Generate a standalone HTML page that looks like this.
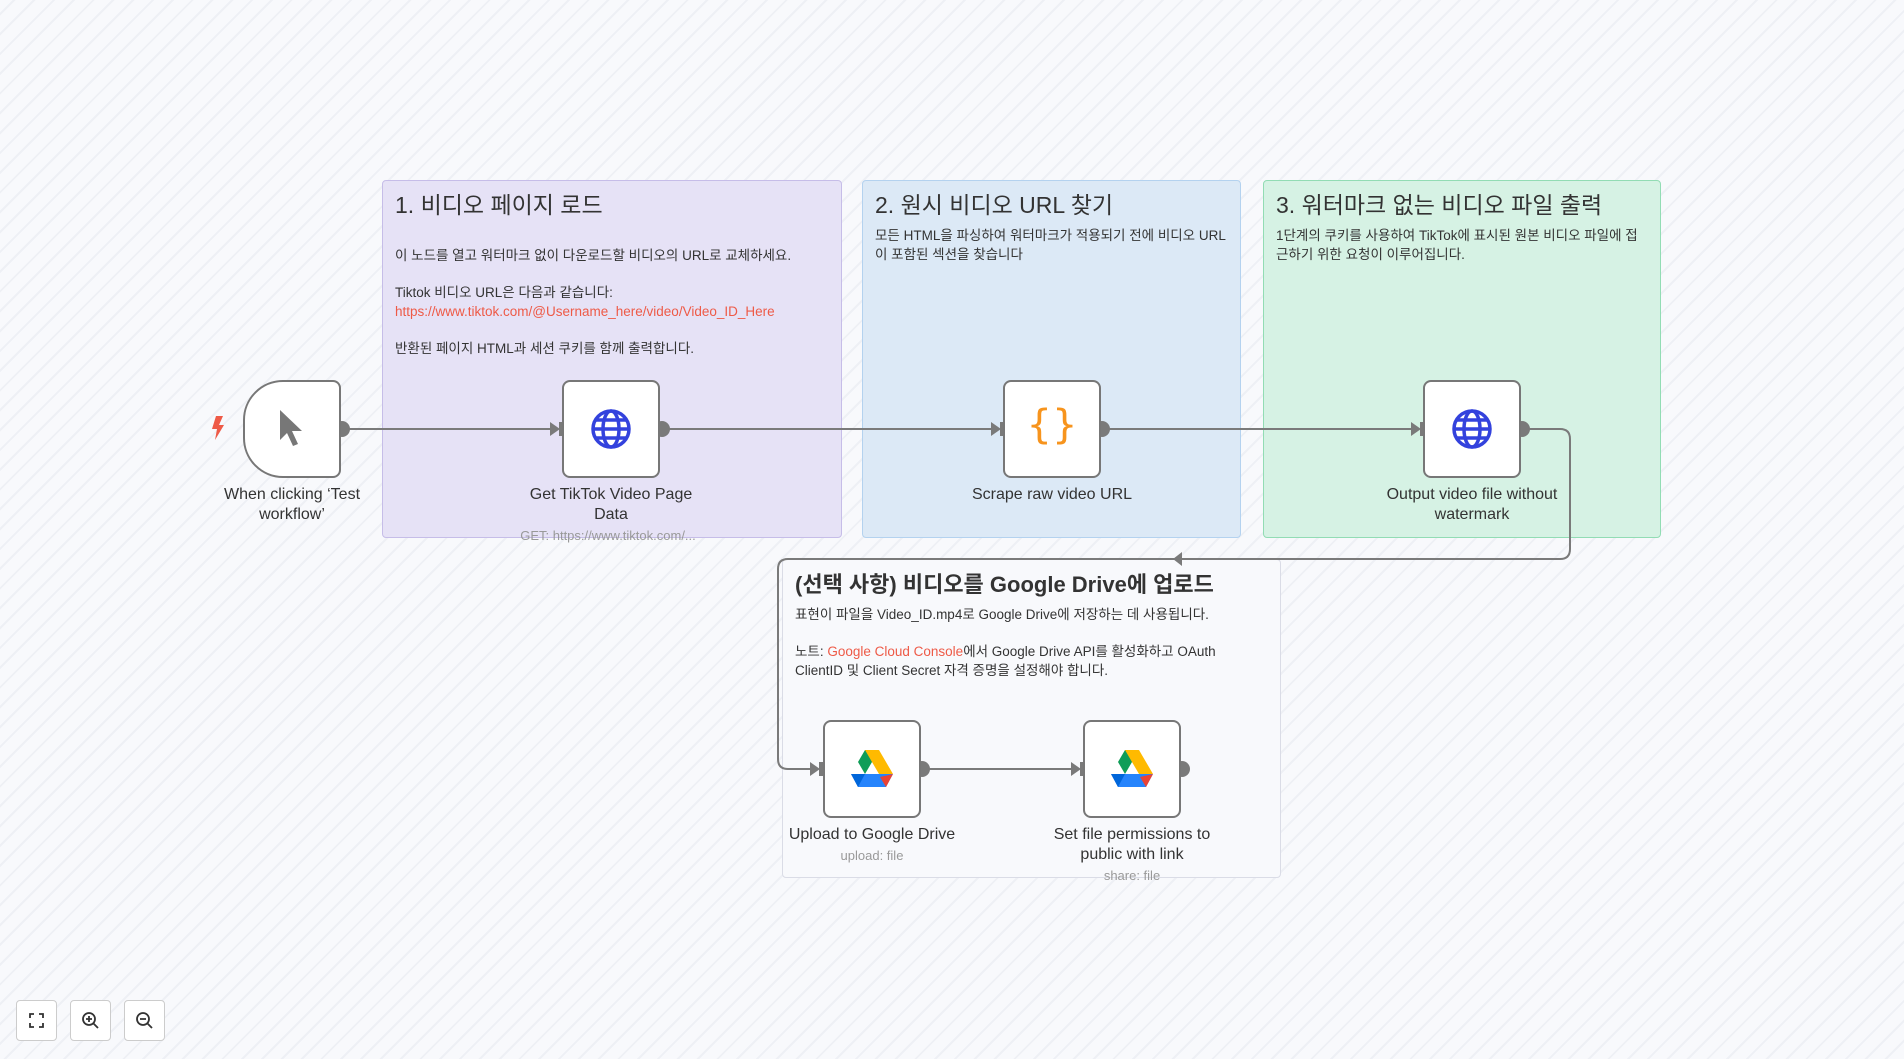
<!DOCTYPE html>
<html><head><meta charset="utf-8"><style>
html,body{margin:0;padding:0;width:1904px;height:1059px;overflow:hidden}
body{background-color:#f7f8fb;background-image:repeating-linear-gradient(-45deg,#f8f9fc 0,#f8f9fc 12px,#eef0f5 12px,#eef0f5 14px);font-family:"Liberation Sans","Noto Sans CJK KR",sans-serif}
.st{position:absolute;border-radius:4px;box-sizing:border-box;padding:5px 12px;color:#333}
.st h2{margin:0 0 6px;font-size:23px;font-weight:normal;color:#333}
.st p{margin:0;font-size:13.5px;line-height:19px}
.red{color:#ee5a47}
.node{position:absolute;width:98px;height:98px;background:#fff;border:2px solid #777;border-radius:8px;box-sizing:border-box}
.lbl{position:absolute;text-align:center;font-size:16px;color:#333;line-height:20px;width:200px}
.sub{position:absolute;text-align:center;font-size:13px;color:#999;width:240px}
.btn{position:absolute;width:41px;height:41px;border:1px solid #ccc;border-radius:4px;background:#fff;box-sizing:border-box}
</style></head><body>
<div class="st" style="left:382px;top:180px;width:460px;height:358px;background:#e6e2f6;border:1px solid #c6bde8">
<h2>1. 비디오 페이지 로드</h2>
<p style="margin-top:26px">이 노드를 열고 워터마크 없이 다운로드할 비디오의 URL로 교체하세요.</p><br>
<p>Tiktok 비디오 URL은 다음과 같습니다:</p>
<p class="red">https://www.tiktok.com/@Username_here/video/Video_ID_Here</p><br>
<p>반환된 페이지 HTML과 세션 쿠키를 함께 출력합니다.</p>
</div>
<div class="st" style="left:862px;top:180px;width:379px;height:358px;background:#dce9f6;border:1px solid #b4d2ef">
<h2>2. 원시 비디오 URL 찾기</h2>
<p>모든 HTML을 파싱하여 워터마크가 적용되기 전에 비디오 URL이 포함된 섹션을 찾습니다</p>
</div>
<div class="st" style="left:1263px;top:180px;width:398px;height:358px;background:#d6f2e4;border:1px solid #92dcb4">
<h2>3. 워터마크 없는 비디오 파일 출력</h2>
<p>1단계의 쿠키를 사용하여 TikTok에 표시된 원본 비디오 파일에 접근하기 위한 요청이 이루어집니다.</p>
</div>
<div class="st" style="left:782px;top:559px;width:499px;height:319px;background:#f8f9fc;border:1px solid #dadce6;padding-right:30px">
<h2 style="font-weight:bold;margin-top:2px;font-size:22px">(선택 사항) 비디오를 Google Drive에 업로드</h2>
<p>표현이 파일을 Video_ID.mp4로 Google Drive에 저장하는 데 사용됩니다.</p><br>
<p>노트: <span class="red">Google Cloud Console</span>에서 Google Drive API를 활성화하고 OAuth ClientID 및 Client Secret 자격 증명을 설정해야 합니다.</p>
</div>

<svg style="position:absolute;left:0;top:0" width="1904" height="1059">
<g stroke="#7a7a7a" stroke-width="2" fill="none">
<path d="M341 429H556"/><path d="M660 429H997"/><path d="M1100 429H1417"/>
<path d="M1522 429H1560Q1570 429 1570 439V549Q1570 559 1560 559H788Q778 559 778 569V759Q778 769 788 769H816"/>
<path d="M921 769H1077"/>
</g>
<g fill="#7a7a7a">
<polygon points="550,422 560,429 550,436"/><rect x="559" y="422" width="5" height="14"/>
<polygon points="991,422 1001,429 991,436"/><rect x="1000" y="422" width="5" height="14"/>
<polygon points="1411,422 1421,429 1411,436"/><rect x="1420" y="422" width="5" height="14"/>
<polygon points="810,762 820,769 810,776"/><rect x="819" y="762" width="5" height="14"/>
<polygon points="1071,762 1081,769 1071,776"/><rect x="1080" y="762" width="5" height="14"/>
<polygon points="1173,559 1182,552 1182,566"/>
<circle cx="342" cy="429" r="8"/><circle cx="662" cy="429" r="8"/><circle cx="1102" cy="429" r="8"/><circle cx="1522" cy="429" r="8"/>
<circle cx="922" cy="769" r="8"/><circle cx="1182" cy="769" r="8"/>
</g>
</svg>

<div class="node" style="left:243px;top:380px;border-radius:40px 8px 8px 40px"></div>
<svg style="position:absolute;left:278px;top:408px" width="30" height="42"><path d="M2 2 L2 32 L9 25 L15 38 L20 36 L14 23 L24 23 Z" fill="#777"/></svg>
<svg style="position:absolute;left:211px;top:416px" width="14" height="24"><path d="M5 0 L12 0 L8 9 L13 9 L4 24 L6 13 L1 13 Z" fill="#ee5a47"/></svg>

<div class="node" style="left:562px;top:380px"></div>
<div class="node" style="left:1003px;top:380px"></div>
<div class="node" style="left:1423px;top:380px"></div>
<div class="node" style="left:823px;top:720px"></div>
<div class="node" style="left:1083px;top:720px"></div>

<svg style="position:absolute;left:590px;top:408px" width="42" height="42"><g fill="none" stroke="#3342dd" stroke-width="3.5"><circle cx="21" cy="21" r="18"/><ellipse cx="21" cy="21" rx="8" ry="18"/><path d="M3 21H39M6 12H36M6 30H36"/></g></svg>
<svg style="position:absolute;left:1451px;top:408px" width="42" height="42"><g fill="none" stroke="#3342dd" stroke-width="3.5"><circle cx="21" cy="21" r="18"/><ellipse cx="21" cy="21" rx="8" ry="18"/><path d="M3 21H39M6 12H36M6 30H36"/></g></svg>
<div style="position:absolute;left:1003px;top:402px;width:98px;text-align:center;font-size:40px;color:#f7941d;font-family:'DejaVu Sans',sans-serif">{}</div>

<svg style="position:absolute;left:851px;top:750px" width="42" height="38" viewBox="0 0 42 38">
<polygon points="14,0 28,0 14,24 7,12" fill="#0f9d58"/><polygon points="14,0 28,0 42,24 28,24" fill="#ffba00"/><polygon points="0,24 14,24 28,24 42,24 35,37 7,37" fill="#2684fc"/><polygon points="42,24 35,37 29,27" fill="#ea4335"/><polygon points="0,24 7,37 14,24" fill="#0066da"/></svg>
<svg style="position:absolute;left:1111px;top:750px" width="42" height="38" viewBox="0 0 42 38">
<polygon points="14,0 28,0 14,24 7,12" fill="#0f9d58"/><polygon points="14,0 28,0 42,24 28,24" fill="#ffba00"/><polygon points="0,24 14,24 28,24 42,24 35,37 7,37" fill="#2684fc"/><polygon points="42,24 35,37 29,27" fill="#ea4335"/><polygon points="0,24 7,37 14,24" fill="#0066da"/></svg>

<div class="lbl" style="left:192px;top:485px">When clicking ‘Test workflow’</div>
<div class="lbl" style="left:511px;top:485px">Get TikTok Video Page Data</div>
<div class="sub" style="left:488px;top:528px">GET: https://www.tiktok.com/...</div>
<div class="lbl" style="left:952px;top:485px">Scrape raw video URL</div>
<div class="lbl" style="left:1372px;top:485px">Output video file without watermark</div>
<div class="lbl" style="left:772px;top:825px;width:200px">Upload to Google Drive</div>
<div class="sub" style="left:752px;top:848px">upload: file</div>
<div class="lbl" style="left:1032px;top:825px">Set file permissions to public with link</div>
<div class="sub" style="left:1012px;top:868px">share: file</div>

<div class="btn" style="left:16px;top:1000px"><svg width="39" height="39"><g fill="none" stroke="#333" stroke-width="1.8"><path d="M13 17V13H17M22 13H26V17M26 22V26H22M17 26H13V22"/></g></svg></div>
<div class="btn" style="left:70px;top:1000px"><svg width="39" height="39"><g fill="none" stroke="#333" stroke-width="1.8"><circle cx="18" cy="18" r="6"/><path d="M22.5 22.5L27 27M15 18H21M18 15V21"/></g></svg></div>
<div class="btn" style="left:124px;top:1000px"><svg width="39" height="39"><g fill="none" stroke="#333" stroke-width="1.8"><circle cx="18" cy="18" r="6"/><path d="M22.5 22.5L27 27M15 18H21"/></g></svg></div>
</body></html>
